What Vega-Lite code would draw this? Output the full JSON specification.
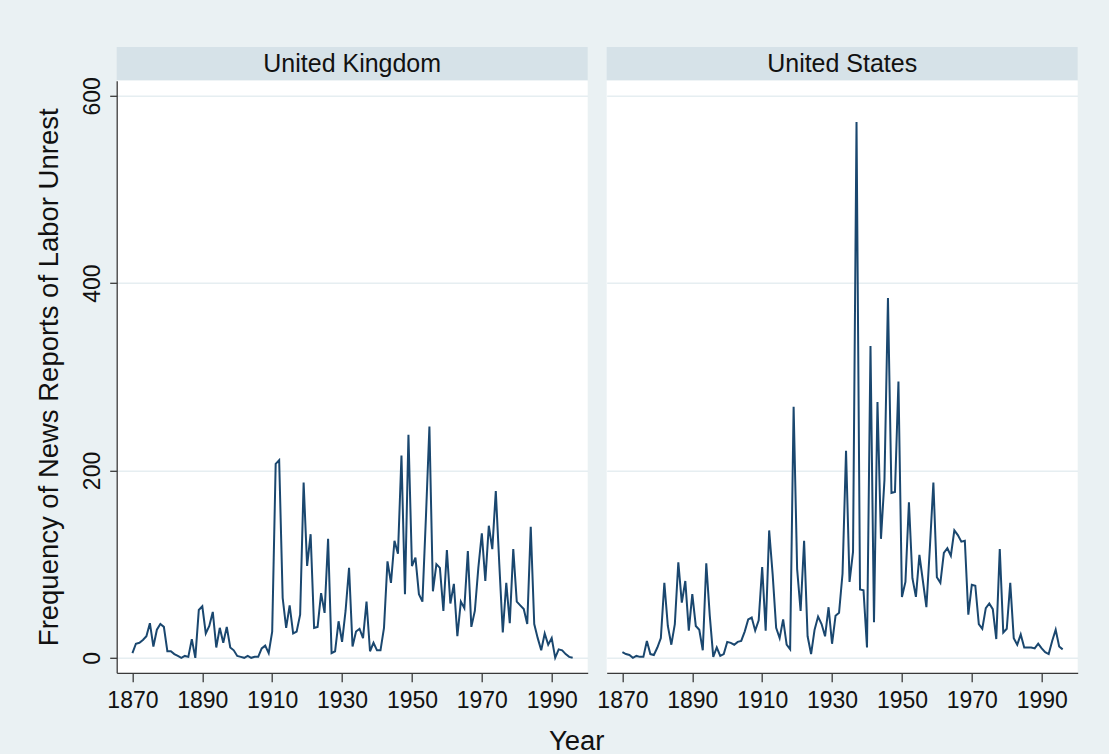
{
  "$schema": "https://vega.github.io/schema/vega-lite/v6.json",
  "background": "#EAF1F3",
  "padding": {"left": 35.7, "top": 47, "right": 31, "bottom": 0},
  "config": {
    "font": "Liberation Sans",
    "view": {"stroke": null},
    "axis": {
      "labelFont": "Liberation Sans",
      "titleFont": "Liberation Sans",
      "labelColor": "#111111",
      "titleColor": "#111111",
      "domainColor": "#3a3a3a",
      "tickColor": "#3a3a3a",
      "domainWidth": 1.3,
      "tickWidth": 1.3,
      "labelFontSize": 23,
      "titleFontSize": 27.5,
      "titleFontWeight": "normal",
      "labelFlush": false
    }
  },
  "datasets": {
    "unrest": [
      {"country": "United Kingdom", "year": 1870, "reports": 5},
      {"country": "United Kingdom", "year": 1871, "reports": 15},
      {"country": "United Kingdom", "year": 1872, "reports": 16},
      {"country": "United Kingdom", "year": 1873, "reports": 19},
      {"country": "United Kingdom", "year": 1874, "reports": 23},
      {"country": "United Kingdom", "year": 1875, "reports": 37},
      {"country": "United Kingdom", "year": 1876, "reports": 12},
      {"country": "United Kingdom", "year": 1877, "reports": 30},
      {"country": "United Kingdom", "year": 1878, "reports": 36},
      {"country": "United Kingdom", "year": 1879, "reports": 33},
      {"country": "United Kingdom", "year": 1880, "reports": 7},
      {"country": "United Kingdom", "year": 1881, "reports": 7},
      {"country": "United Kingdom", "year": 1882, "reports": 4},
      {"country": "United Kingdom", "year": 1883, "reports": 2},
      {"country": "United Kingdom", "year": 1884, "reports": 0},
      {"country": "United Kingdom", "year": 1885, "reports": 2},
      {"country": "United Kingdom", "year": 1886, "reports": 1},
      {"country": "United Kingdom", "year": 1887, "reports": 20},
      {"country": "United Kingdom", "year": 1888, "reports": 0},
      {"country": "United Kingdom", "year": 1889, "reports": 51},
      {"country": "United Kingdom", "year": 1890, "reports": 55},
      {"country": "United Kingdom", "year": 1891, "reports": 26},
      {"country": "United Kingdom", "year": 1892, "reports": 34},
      {"country": "United Kingdom", "year": 1893, "reports": 49},
      {"country": "United Kingdom", "year": 1894, "reports": 11},
      {"country": "United Kingdom", "year": 1895, "reports": 32},
      {"country": "United Kingdom", "year": 1896, "reports": 16},
      {"country": "United Kingdom", "year": 1897, "reports": 33},
      {"country": "United Kingdom", "year": 1898, "reports": 11},
      {"country": "United Kingdom", "year": 1899, "reports": 8},
      {"country": "United Kingdom", "year": 1900, "reports": 2},
      {"country": "United Kingdom", "year": 1901, "reports": 1},
      {"country": "United Kingdom", "year": 1902, "reports": 0},
      {"country": "United Kingdom", "year": 1903, "reports": 2},
      {"country": "United Kingdom", "year": 1904, "reports": 0},
      {"country": "United Kingdom", "year": 1905, "reports": 1},
      {"country": "United Kingdom", "year": 1906, "reports": 1},
      {"country": "United Kingdom", "year": 1907, "reports": 10},
      {"country": "United Kingdom", "year": 1908, "reports": 13},
      {"country": "United Kingdom", "year": 1909, "reports": 5},
      {"country": "United Kingdom", "year": 1910, "reports": 28},
      {"country": "United Kingdom", "year": 1911, "reports": 207},
      {"country": "United Kingdom", "year": 1912, "reports": 211},
      {"country": "United Kingdom", "year": 1913, "reports": 64},
      {"country": "United Kingdom", "year": 1914, "reports": 32},
      {"country": "United Kingdom", "year": 1915, "reports": 56},
      {"country": "United Kingdom", "year": 1916, "reports": 26},
      {"country": "United Kingdom", "year": 1917, "reports": 28},
      {"country": "United Kingdom", "year": 1918, "reports": 46},
      {"country": "United Kingdom", "year": 1919, "reports": 187},
      {"country": "United Kingdom", "year": 1920, "reports": 98},
      {"country": "United Kingdom", "year": 1921, "reports": 132},
      {"country": "United Kingdom", "year": 1922, "reports": 32},
      {"country": "United Kingdom", "year": 1923, "reports": 33},
      {"country": "United Kingdom", "year": 1924, "reports": 69},
      {"country": "United Kingdom", "year": 1925, "reports": 48},
      {"country": "United Kingdom", "year": 1926, "reports": 127},
      {"country": "United Kingdom", "year": 1927, "reports": 5},
      {"country": "United Kingdom", "year": 1928, "reports": 7},
      {"country": "United Kingdom", "year": 1929, "reports": 39},
      {"country": "United Kingdom", "year": 1930, "reports": 17},
      {"country": "United Kingdom", "year": 1931, "reports": 50},
      {"country": "United Kingdom", "year": 1932, "reports": 96},
      {"country": "United Kingdom", "year": 1933, "reports": 12},
      {"country": "United Kingdom", "year": 1934, "reports": 28},
      {"country": "United Kingdom", "year": 1935, "reports": 31},
      {"country": "United Kingdom", "year": 1936, "reports": 21},
      {"country": "United Kingdom", "year": 1937, "reports": 60},
      {"country": "United Kingdom", "year": 1938, "reports": 7},
      {"country": "United Kingdom", "year": 1939, "reports": 16},
      {"country": "United Kingdom", "year": 1940, "reports": 8},
      {"country": "United Kingdom", "year": 1941, "reports": 8},
      {"country": "United Kingdom", "year": 1942, "reports": 32},
      {"country": "United Kingdom", "year": 1943, "reports": 103},
      {"country": "United Kingdom", "year": 1944, "reports": 80},
      {"country": "United Kingdom", "year": 1945, "reports": 125},
      {"country": "United Kingdom", "year": 1946, "reports": 111},
      {"country": "United Kingdom", "year": 1947, "reports": 216},
      {"country": "United Kingdom", "year": 1948, "reports": 68},
      {"country": "United Kingdom", "year": 1949, "reports": 238},
      {"country": "United Kingdom", "year": 1950, "reports": 98},
      {"country": "United Kingdom", "year": 1951, "reports": 107},
      {"country": "United Kingdom", "year": 1952, "reports": 68},
      {"country": "United Kingdom", "year": 1953, "reports": 60},
      {"country": "United Kingdom", "year": 1954, "reports": 150},
      {"country": "United Kingdom", "year": 1955, "reports": 247},
      {"country": "United Kingdom", "year": 1956, "reports": 71},
      {"country": "United Kingdom", "year": 1957, "reports": 100},
      {"country": "United Kingdom", "year": 1958, "reports": 96},
      {"country": "United Kingdom", "year": 1959, "reports": 50},
      {"country": "United Kingdom", "year": 1960, "reports": 115},
      {"country": "United Kingdom", "year": 1961, "reports": 58},
      {"country": "United Kingdom", "year": 1962, "reports": 79},
      {"country": "United Kingdom", "year": 1963, "reports": 23},
      {"country": "United Kingdom", "year": 1964, "reports": 60},
      {"country": "United Kingdom", "year": 1965, "reports": 53},
      {"country": "United Kingdom", "year": 1966, "reports": 114},
      {"country": "United Kingdom", "year": 1967, "reports": 33},
      {"country": "United Kingdom", "year": 1968, "reports": 50},
      {"country": "United Kingdom", "year": 1969, "reports": 96},
      {"country": "United Kingdom", "year": 1970, "reports": 133},
      {"country": "United Kingdom", "year": 1971, "reports": 82},
      {"country": "United Kingdom", "year": 1972, "reports": 141},
      {"country": "United Kingdom", "year": 1973, "reports": 116},
      {"country": "United Kingdom", "year": 1974, "reports": 178},
      {"country": "United Kingdom", "year": 1975, "reports": 100},
      {"country": "United Kingdom", "year": 1976, "reports": 27},
      {"country": "United Kingdom", "year": 1977, "reports": 80},
      {"country": "United Kingdom", "year": 1978, "reports": 37},
      {"country": "United Kingdom", "year": 1979, "reports": 116},
      {"country": "United Kingdom", "year": 1980, "reports": 60},
      {"country": "United Kingdom", "year": 1981, "reports": 56},
      {"country": "United Kingdom", "year": 1982, "reports": 52},
      {"country": "United Kingdom", "year": 1983, "reports": 36},
      {"country": "United Kingdom", "year": 1984, "reports": 140},
      {"country": "United Kingdom", "year": 1985, "reports": 36},
      {"country": "United Kingdom", "year": 1986, "reports": 21},
      {"country": "United Kingdom", "year": 1987, "reports": 8},
      {"country": "United Kingdom", "year": 1988, "reports": 26},
      {"country": "United Kingdom", "year": 1989, "reports": 14},
      {"country": "United Kingdom", "year": 1990, "reports": 21},
      {"country": "United Kingdom", "year": 1991, "reports": 0},
      {"country": "United Kingdom", "year": 1992, "reports": 9},
      {"country": "United Kingdom", "year": 1993, "reports": 8},
      {"country": "United Kingdom", "year": 1994, "reports": 4},
      {"country": "United Kingdom", "year": 1995, "reports": 1},
      {"country": "United Kingdom", "year": 1996, "reports": 0},
      {"country": "United States", "year": 1870, "reports": 6},
      {"country": "United States", "year": 1871, "reports": 4},
      {"country": "United States", "year": 1872, "reports": 3},
      {"country": "United States", "year": 1873, "reports": 0},
      {"country": "United States", "year": 1874, "reports": 2},
      {"country": "United States", "year": 1875, "reports": 1},
      {"country": "United States", "year": 1876, "reports": 1},
      {"country": "United States", "year": 1877, "reports": 18},
      {"country": "United States", "year": 1878, "reports": 4},
      {"country": "United States", "year": 1879, "reports": 3},
      {"country": "United States", "year": 1880, "reports": 11},
      {"country": "United States", "year": 1881, "reports": 21},
      {"country": "United States", "year": 1882, "reports": 80},
      {"country": "United States", "year": 1883, "reports": 34},
      {"country": "United States", "year": 1884, "reports": 14},
      {"country": "United States", "year": 1885, "reports": 36},
      {"country": "United States", "year": 1886, "reports": 102},
      {"country": "United States", "year": 1887, "reports": 59},
      {"country": "United States", "year": 1888, "reports": 82},
      {"country": "United States", "year": 1889, "reports": 29},
      {"country": "United States", "year": 1890, "reports": 68},
      {"country": "United States", "year": 1891, "reports": 34},
      {"country": "United States", "year": 1892, "reports": 30},
      {"country": "United States", "year": 1893, "reports": 8},
      {"country": "United States", "year": 1894, "reports": 101},
      {"country": "United States", "year": 1895, "reports": 45},
      {"country": "United States", "year": 1896, "reports": 1},
      {"country": "United States", "year": 1897, "reports": 11},
      {"country": "United States", "year": 1898, "reports": 2},
      {"country": "United States", "year": 1899, "reports": 4},
      {"country": "United States", "year": 1900, "reports": 17},
      {"country": "United States", "year": 1901, "reports": 16},
      {"country": "United States", "year": 1902, "reports": 14},
      {"country": "United States", "year": 1903, "reports": 17},
      {"country": "United States", "year": 1904, "reports": 18},
      {"country": "United States", "year": 1905, "reports": 28},
      {"country": "United States", "year": 1906, "reports": 41},
      {"country": "United States", "year": 1907, "reports": 43},
      {"country": "United States", "year": 1908, "reports": 29},
      {"country": "United States", "year": 1909, "reports": 40},
      {"country": "United States", "year": 1910, "reports": 97},
      {"country": "United States", "year": 1911, "reports": 29},
      {"country": "United States", "year": 1912, "reports": 136},
      {"country": "United States", "year": 1913, "reports": 89},
      {"country": "United States", "year": 1914, "reports": 32},
      {"country": "United States", "year": 1915, "reports": 21},
      {"country": "United States", "year": 1916, "reports": 41},
      {"country": "United States", "year": 1917, "reports": 14},
      {"country": "United States", "year": 1918, "reports": 9},
      {"country": "United States", "year": 1919, "reports": 268},
      {"country": "United States", "year": 1920, "reports": 95},
      {"country": "United States", "year": 1921, "reports": 50},
      {"country": "United States", "year": 1922, "reports": 125},
      {"country": "United States", "year": 1923, "reports": 23},
      {"country": "United States", "year": 1924, "reports": 4},
      {"country": "United States", "year": 1925, "reports": 30},
      {"country": "United States", "year": 1926, "reports": 44},
      {"country": "United States", "year": 1927, "reports": 36},
      {"country": "United States", "year": 1928, "reports": 23},
      {"country": "United States", "year": 1929, "reports": 54},
      {"country": "United States", "year": 1930, "reports": 15},
      {"country": "United States", "year": 1931, "reports": 45},
      {"country": "United States", "year": 1932, "reports": 48},
      {"country": "United States", "year": 1933, "reports": 90},
      {"country": "United States", "year": 1934, "reports": 221},
      {"country": "United States", "year": 1935, "reports": 81},
      {"country": "United States", "year": 1936, "reports": 113},
      {"country": "United States", "year": 1937, "reports": 572},
      {"country": "United States", "year": 1938, "reports": 73},
      {"country": "United States", "year": 1939, "reports": 72},
      {"country": "United States", "year": 1940, "reports": 11},
      {"country": "United States", "year": 1941, "reports": 333},
      {"country": "United States", "year": 1942, "reports": 38},
      {"country": "United States", "year": 1943, "reports": 273},
      {"country": "United States", "year": 1944, "reports": 127},
      {"country": "United States", "year": 1945, "reports": 190},
      {"country": "United States", "year": 1946, "reports": 384},
      {"country": "United States", "year": 1947, "reports": 176},
      {"country": "United States", "year": 1948, "reports": 177},
      {"country": "United States", "year": 1949, "reports": 295},
      {"country": "United States", "year": 1950, "reports": 65},
      {"country": "United States", "year": 1951, "reports": 81},
      {"country": "United States", "year": 1952, "reports": 166},
      {"country": "United States", "year": 1953, "reports": 85},
      {"country": "United States", "year": 1954, "reports": 65},
      {"country": "United States", "year": 1955, "reports": 110},
      {"country": "United States", "year": 1956, "reports": 82},
      {"country": "United States", "year": 1957, "reports": 54},
      {"country": "United States", "year": 1958, "reports": 118},
      {"country": "United States", "year": 1959, "reports": 187},
      {"country": "United States", "year": 1960, "reports": 86},
      {"country": "United States", "year": 1961, "reports": 80},
      {"country": "United States", "year": 1962, "reports": 112},
      {"country": "United States", "year": 1963, "reports": 117},
      {"country": "United States", "year": 1964, "reports": 109},
      {"country": "United States", "year": 1965, "reports": 136},
      {"country": "United States", "year": 1966, "reports": 131},
      {"country": "United States", "year": 1967, "reports": 124},
      {"country": "United States", "year": 1968, "reports": 125},
      {"country": "United States", "year": 1969, "reports": 46},
      {"country": "United States", "year": 1970, "reports": 78},
      {"country": "United States", "year": 1971, "reports": 77},
      {"country": "United States", "year": 1972, "reports": 36},
      {"country": "United States", "year": 1973, "reports": 31},
      {"country": "United States", "year": 1974, "reports": 53},
      {"country": "United States", "year": 1975, "reports": 58},
      {"country": "United States", "year": 1976, "reports": 52},
      {"country": "United States", "year": 1977, "reports": 20},
      {"country": "United States", "year": 1978, "reports": 116},
      {"country": "United States", "year": 1979, "reports": 27},
      {"country": "United States", "year": 1980, "reports": 31},
      {"country": "United States", "year": 1981, "reports": 80},
      {"country": "United States", "year": 1982, "reports": 21},
      {"country": "United States", "year": 1983, "reports": 14},
      {"country": "United States", "year": 1984, "reports": 25},
      {"country": "United States", "year": 1985, "reports": 11},
      {"country": "United States", "year": 1986, "reports": 11},
      {"country": "United States", "year": 1987, "reports": 11},
      {"country": "United States", "year": 1988, "reports": 10},
      {"country": "United States", "year": 1989, "reports": 15},
      {"country": "United States", "year": 1990, "reports": 10},
      {"country": "United States", "year": 1991, "reports": 6},
      {"country": "United States", "year": 1992, "reports": 4},
      {"country": "United States", "year": 1993, "reports": 18},
      {"country": "United States", "year": 1994, "reports": 30},
      {"country": "United States", "year": 1995, "reports": 12},
      {"country": "United States", "year": 1996, "reports": 9}
    ]
  },
  "spacing": -4.2,
  "vconcat": [
    {
      "bounds": "flush",
      "spacing": 19,
      "hconcat": [
        {
          "width": 471,
          "height": 33,
          "view": {"fill": "#D6E2E8", "stroke": null},
          "data": {"values": [{"panel": "United Kingdom"}]},
          "mark": {"type": "text", "fontSize": 25, "color": "#111111", "align": "center", "baseline": "middle", "font": "Liberation Sans"},
          "encoding": {"text": {"field": "panel"}}
        },
        {
          "width": 471,
          "height": 33,
          "view": {"fill": "#D6E2E8", "stroke": null},
          "data": {"values": [{"panel": "United States"}]},
          "mark": {"type": "text", "fontSize": 25, "color": "#111111", "align": "center", "baseline": "middle", "font": "Liberation Sans"},
          "encoding": {"text": {"field": "panel"}}
        }
      ]
    },
    {
      "bounds": "flush",
      "spacing": 19,
      "hconcat": [
        {
          "width": 471,
          "height": 592,
          "view": {"fill": "#ffffff", "stroke": null},
          "data": {"name": "unrest"},
          "transform": [{"filter": "datum.country === 'United Kingdom'"}],
          "mark": {"type": "line", "color": "#1A476F", "strokeWidth": 2},
          "encoding": {
            "x": {
              "field": "year",
              "type": "quantitative",
              "scale": {"domain": [1865.5, 2000.3], "nice": false, "zero": false},
              "axis": {
                "values": [1870, 1890, 1910, 1930, 1950, 1970, 1990],
                "format": "d",
                "grid": false,
                "tickSize": 9,
                "labelPadding": 8,
                "title": "Year",
                "titleX": 459.5,
                "titleY": 76.3,
                "titleAlign": "center",
                "titleBaseline": "alphabetic"
              }
            },
            "y": {
              "field": "reports",
              "type": "quantitative",
              "scale": {"domain": [-16, 616], "nice": false, "zero": false},
              "axis": {
                "values": [0, 200, 400, 600],
                "grid": true,
                "gridColor": "#E6EEF1",
                "gridWidth": 1.5,
                "tickSize": 7,
                "labelAngle": 270,
                "labelAlign": "center",
                "labelBaseline": "alphabetic",
                "labelPadding": 10,
                "title": "Frequency of News Reports of Labor Unrest",
                "titleX": -59,
                "titleBaseline": "alphabetic"
              }
            }
          }
        },
        {
          "width": 471,
          "height": 592,
          "view": {"fill": "#ffffff", "stroke": null},
          "data": {"name": "unrest"},
          "transform": [{"filter": "datum.country === 'United States'"}],
          "mark": {"type": "line", "color": "#1A476F", "strokeWidth": 2},
          "encoding": {
            "x": {
              "field": "year",
              "type": "quantitative",
              "scale": {"domain": [1865.5, 2000.3], "nice": false, "zero": false},
              "axis": {
                "values": [1870, 1890, 1910, 1930, 1950, 1970, 1990],
                "format": "d",
                "grid": false,
                "tickSize": 9,
                "labelPadding": 8,
                "title": null
              }
            },
            "y": {
              "field": "reports",
              "type": "quantitative",
              "scale": {"domain": [-16, 616], "nice": false, "zero": false},
              "axis": {
                "values": [0, 200, 400, 600],
                "grid": true,
                "gridColor": "#E6EEF1",
                "gridWidth": 1.5,
                "labels": false,
                "ticks": false,
                "domain": false,
                "title": null
              }
            }
          }
        }
      ]
    }
  ]
}
